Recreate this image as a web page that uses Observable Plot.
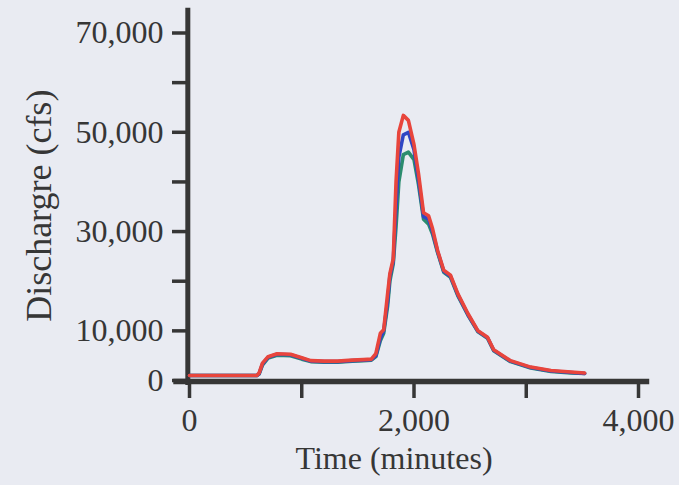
<!DOCTYPE html>
<html>
<head>
<meta charset="utf-8">
<script src="https://cdn.jsdelivr.net/npm/d3@7"></script>
<script src="https://cdn.jsdelivr.net/npm/@observablehq/plot@0.6"></script>
<style>
  html, body { margin: 0; padding: 0; background: #e9ebf2; }
  #chart svg { display: block; background: #e9ebf2; }
</style>
</head>
<body>
<div id="chart"></div>
<script>
// Time (minutes)
const times = [0, 600, 620, 650, 700, 780, 900, 1000, 1080, 1200, 1320, 1450, 1550, 1620, 1660, 1700, 1730, 1765, 1785, 1815, 1840, 1865, 1905, 1950, 2000, 2040, 2085, 2130, 2165, 2210, 2265, 2325, 2390, 2480, 2570, 2655, 2710, 2860, 3040, 3220, 3400, 3520];
// Discharge (cfs) for three series
const redQ = [1000, 1000, 1500, 3500, 4800, 5400, 5300, 4600, 4000, 3900, 3900, 4100, 4200, 4300, 5400, 9500, 10200, 17500, 21500, 24500, 40000, 50000, 53400, 52400, 47500, 41700, 33800, 33200, 30600, 26200, 22200, 21200, 17500, 13500, 10000, 8700, 6200, 4000, 2700, 2000, 1700, 1500];
const blueQ = [1000, 1000, 1400, 3300, 4700, 5300, 5200, 4500, 3900, 3800, 3800, 4000, 4100, 4200, 5000, 8500, 10000, 16000, 21000, 24000, 35000, 45000, 49500, 50000, 46500, 40500, 33000, 32500, 30000, 26000, 22000, 21000, 17300, 13300, 9900, 8600, 6100, 3900, 2600, 1900, 1600, 1400];
const greenQ = [1000, 1000, 1300, 3100, 4500, 5100, 5000, 4300, 3800, 3700, 3700, 3900, 4000, 4100, 4800, 8000, 9500, 15000, 20000, 23500, 31000, 40000, 45500, 46000, 44500, 39500, 32500, 31500, 29500, 25800, 21800, 20800, 17100, 13200, 9800, 8500, 6000, 3800, 2500, 1800, 1500, 1400];
const seriesNames = ["Series C", "Series B", "Series A"];
const seriesColors = ["#2b8c6e", "#2f46c4", "#e8453c"];

const xTicks = [0, 1000, 2000, 3000, 4000];
const xLabels = ["0", "", "2,000", "", "4,000"];
const yTicks = [0, 10000, 20000, 30000, 40000, 50000, 60000, 70000];
const yLabels = ["0", "10,000", "", "30,000", "", "50,000", "", "70,000"];

const data = [];
[greenQ, blueQ, redQ].forEach((arr, k) => {
  arr.forEach((q, i) => data.push({series: seriesNames[k], t: times[i], q}));
});

const ink = "#363636";
const font = "'Liberation Serif', 'Times New Roman', serif";

const chart = Plot.plot({
  width: 679,
  height: 485,
  marginLeft: 189,
  marginRight: 41,
  marginTop: 32.5,
  marginBottom: 105,
  style: {background: "#e9ebf2", fontFamily: font, color: ink},
  x: {domain: [0, 4000]},
  y: {domain: [0, 70000]},
  color: {domain: seriesNames, range: seriesColors},
  marks: [
    Plot.axisX({ticks: xTicks, tickFormat: d => xLabels[xTicks.indexOf(d)], tickSize: 18, tickPadding: 10, strokeWidth: 3.5, stroke: ink, fill: ink, fontSize: 32, label: null}),
    Plot.axisY({ticks: yTicks, tickFormat: d => yLabels[yTicks.indexOf(d)], tickSize: 17, tickPadding: 9, strokeWidth: 3.5, stroke: ink, fill: ink, fontSize: 32, label: null}),
    Plot.ruleX([-15], {y1: -1000, y2: 75000, stroke: ink, strokeWidth: 5}),
    Plot.ruleY([-200], {x1: -140, x2: 4100, stroke: ink, strokeWidth: 5.5}),
    Plot.line(data, {x: "t", y: "q", z: "series", stroke: "series", strokeWidth: 3.6, strokeLinejoin: "round"}),
    Plot.text(["Dischargre (cfs)"], {frameAnchor: "left", textAnchor: "middle", rotate: -90, dx: -150, dy: -1, fontSize: 36, fill: ink, lineAnchor: "middle"}),
    Plot.text(["Time (minutes)"], {frameAnchor: "bottom", textAnchor: "middle", dx: -20, dy: 78, fontSize: 32, fill: ink, lineAnchor: "middle"})
  ]
});
document.getElementById("chart").appendChild(chart);
</script>
</body>
</html>
